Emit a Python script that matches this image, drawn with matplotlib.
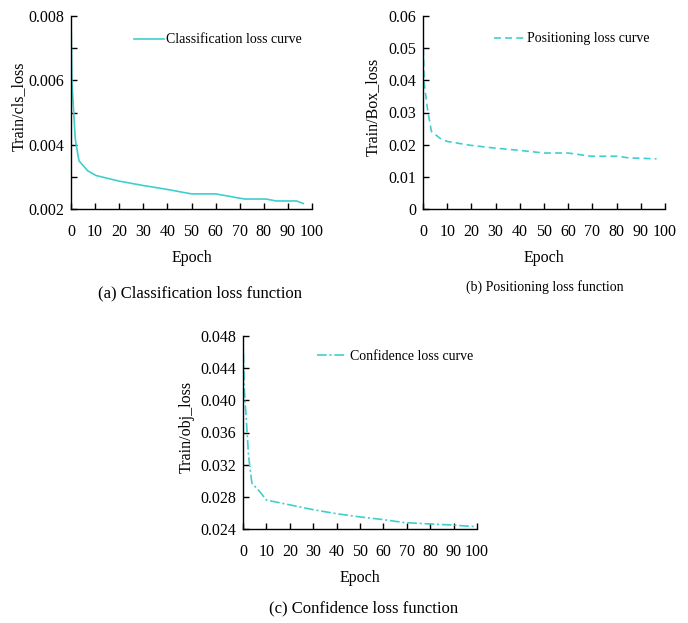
import numpy as np
import matplotlib
matplotlib.use("Agg")
import matplotlib.pyplot as plt
from matplotlib.ticker import MultipleLocator, FuncFormatter

plt.rcParams['font.family'] = ['Liberation Serif', 'DejaVu Serif']
plt.rcParams['lines.scale_dashes'] = False

# values
epoch_cls = [0, 0.4, 1.8, 3.3, 6.9, 10.4, 19.8, 30, 39.8, 50, 53.6, 60, 72, 81, 85, 93.6, 96.4]
cls_loss = [0.0080, 0.0059, 0.00415, 0.0035, 0.00319, 0.00304, 0.00287, 0.00273, 0.00261,
            0.00247, 0.00247, 0.00247, 0.00231, 0.00231, 0.00225, 0.00225, 0.00217]

epoch_box = [0, 0.5, 2, 3.5, 7, 10, 19.7, 30, 40.4, 50, 60, 69.5, 80.6, 84.8, 96.5]
box_loss = [0.0534, 0.0391, 0.0303, 0.0241, 0.0220, 0.0210, 0.0198, 0.0189, 0.0182,
            0.0174, 0.0174, 0.0164, 0.0164, 0.0159, 0.0156]

epoch_obj = [0, 0.5, 1.4, 2.4, 3.8, 7, 10, 20, 30, 40, 50, 59, 69, 75, 89, 99]
obj_loss = [0.0480, 0.0417, 0.0376, 0.0330, 0.0297, 0.0287, 0.0276, 0.0270, 0.0264,
            0.0259, 0.0255, 0.0252, 0.0248, 0.0247, 0.0245, 0.0243]

xticks = list(range(0, 101, 10))
line_color = '#3fcfcf'

W, H = 688, 623
fig = plt.figure(figsize=(W / 100, H / 100), dpi=100)


def make_axes(left, top, right, bottom):
    ax = fig.add_axes([left / W, 1 - bottom / H, (right - left) / W, (bottom - top) / H])
    ax.spines['top'].set_visible(False)
    ax.spines['right'].set_visible(False)
    ax.spines['left'].set_linewidth(1.0)
    ax.spines['bottom'].set_linewidth(1.0)
    ax.set_xlim(0, 100)
    ax.set_xticks(xticks)
    ax.tick_params(axis='both', which='both', direction='in', labelsize=11.5, length=4, width=1)
    ax.tick_params(axis='x', pad=11)
    ax.tick_params(axis='y', pad=5)
    ax.set_xlabel("Epoch", fontsize=11.5)
    ax.xaxis.set_label_coords(0.5, -0.215)
    return ax


def add_legend(ax, x, y):
    ax.legend(loc='center left', bbox_to_anchor=(x, y), frameon=False, fontsize=10,
              borderpad=0, borderaxespad=0, handlelength=2.2, handletextpad=0.15)


# (a) classification loss
ax1 = make_axes(71, 16, 312, 209)
ax1.plot(epoch_cls, cls_loss, color=line_color, lw=1.2, label='Classification loss curve')
ax1.set_ylim(0.002, 0.008)
ax1.yaxis.set_major_locator(MultipleLocator(0.002))
ax1.yaxis.set_minor_locator(MultipleLocator(0.001))
ax1.yaxis.set_major_formatter(FuncFormatter(lambda v, p: "%.3f" % v))
ax1.set_ylabel("Train/cls_loss", fontsize=11.5)
ax1.yaxis.set_label_coords(-0.183, 0.53)
add_legend(ax1, 0.26, 0.876)

# (b) positioning loss
ax2 = make_axes(423, 16, 665, 209)
ax2.plot(epoch_box, box_loss, color=line_color, lw=1.2, dashes=(5, 3), label='Positioning loss curve')
ax2.set_ylim(0, 0.06)
ax2.yaxis.set_major_locator(MultipleLocator(0.01))
ax2.yaxis.set_major_formatter(FuncFormatter(lambda v, p: "0" if abs(v) < 1e-9 else "%.2f" % v))
ax2.set_ylabel("Train/Box_loss", fontsize=11.5)
ax2.yaxis.set_label_coords(-0.174, 0.53)
add_legend(ax2, 0.293, 0.881)

# (c) confidence loss
ax3 = make_axes(243, 336, 477, 529)
ax3.plot(epoch_obj, obj_loss, color=line_color, lw=1.2, dashes=(7, 2, 1.5, 2), label='Confidence loss curve')
ax3.set_ylim(0.024, 0.048)
ax3.yaxis.set_major_locator(MultipleLocator(0.004))
ax3.yaxis.set_major_formatter(FuncFormatter(lambda v, p: "%.3f" % v))
ax3.set_ylabel("Train/obj_loss", fontsize=11.5)
ax3.yaxis.set_label_coords(-0.205, 0.53)
add_legend(ax3, 0.316, 0.893)

# captions under each panel
fig.text(200 / W, 1 - 293 / H, "(a) Classification loss function", ha='center', va='center', fontsize=12)
fig.text(545 / W, 1 - 287 / H, "(b) Positioning loss function", ha='center', va='center', fontsize=10)
fig.text(364 / W, 1 - 608 / H, "(c) Confidence loss function", ha='center', va='center', fontsize=12)

fig.savefig("out.png", dpi=100)
